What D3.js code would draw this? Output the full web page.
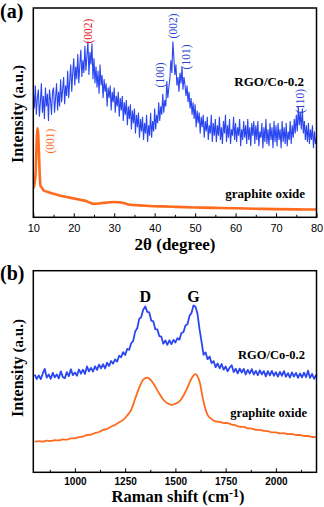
<!DOCTYPE html>
<html>
<head>
<meta charset="utf-8">
<script src="https://cdn.jsdelivr.net/npm/d3@7"></script>
<style>
  body { margin: 0; background: #fff; }
  svg { display: block; }
</style>
</head>
<body>
<div id="chart"></div>
<script>
// XRD (panel a): RGO/Co-0.2 sampled every 0.25 degree from 10 to 80
const xrdAngles = d3.range(10, 80.1, 0.25);
const xrdRgo = [
  60, 52, 63, 49, 57, 61, 48, 55, 64, 50, 58, 47, 62, 53, 59, 46, 61, 56, 49, 60,
  62, 50, 57, 64, 51, 60, 53, 66, 55, 61, 67, 54, 63, 58, 70, 57, 65, 73, 60, 69,
  76, 63, 72, 66, 78, 64, 73, 80, 67, 75, 69, 82, 70, 77, 84, 68, 79, 73, 83, 66,
  76, 64, 72, 62, 70, 59, 73, 63, 68, 57, 66, 60, 64, 53, 62, 57, 63, 51, 60, 55,
  62, 50, 58, 53, 60, 48, 57, 51, 58, 46, 55, 49, 56, 44, 53, 47, 54, 42, 51, 45,
  52, 40, 49, 43, 50, 38, 47, 41, 48, 37, 45, 40, 49, 36, 44, 39, 50, 38, 46, 41,
  52, 42, 49, 45, 55, 46, 53, 49, 59, 50, 56, 53, 65, 57, 62, 66, 75, 69, 84, 76,
  68, 73, 63, 67, 60, 69, 64, 72, 61, 67, 63, 58, 63, 55, 60, 52, 57, 49, 55, 47,
  54, 43, 51, 45, 50, 40, 48, 43, 49, 38, 46, 41, 48, 37, 44, 40, 49, 36, 45, 39,
  47, 36, 44, 39, 48, 37, 43, 35, 46, 40, 49, 36, 44, 38, 47, 35, 42, 39, 48, 37,
  45, 36, 43, 39, 47, 34, 42, 37, 46, 38, 44, 35, 47, 37, 43, 34, 45, 39, 46, 35,
  44, 37, 46, 34, 41, 38, 45, 33, 43, 36, 47, 35, 42, 34, 45, 37, 43, 33, 46, 36,
  44, 34, 45, 37, 42, 33, 46, 36, 43, 35, 45, 34, 41, 37, 46, 35, 44, 38, 47, 40,
  49, 41, 53, 44, 50, 42, 52, 40, 46, 37, 44, 36, 45, 35, 42, 37, 44, 33, 41, 35,
  38
];
// XRD graphite oxide
const goAngles = [10, 10.3, 10.6, 10.8, 11.0, 11.2, 11.4, 11.6, 11.8, 12.1, 12.5, 13, 14, 15, 16, 17, 18, 19, 20,
  21, 22, 23, 24, 25, 26, 27, 28, 29, 30, 31, 32, 33, 34, 35, 36, 38, 40, 42, 45, 50, 55, 60, 65, 70, 75, 80];
const goXrd = [13.9, 16, 22, 34, 42.6, 40, 31, 20, 15, 14.2, 13, 12.5, 11.8, 11.2, 10.7, 10.2, 9.8, 9.4, 9.0,
  8.6, 8.2, 7.8, 7.0, 6.5, 6.6, 6.8, 7.0, 7.2, 7.3, 7.2, 7.0, 6.4, 6.0, 5.8, 5.7, 5.5, 5.3, 5.2, 5.0, 4.7, 4.5, 4.3, 4.1, 3.9, 3.8, 3.7];

const xrdMajor = [10, 20, 30, 40, 50, 60, 70, 80];
const xrdMinor = [15, 25, 35, 45, 55, 65, 75];

// Raman (panel b)
const ramanShiftRgo = d3.range(800, 2201, 10);
const ramanRgo = [
  48.5, 46.3, 48.1, 46.2, 48.9, 51.3, 47.0, 48.5, 46.4, 49.3,
  47.1, 48.5, 46.6, 50.1, 47.2, 46.7, 49.7, 47.7, 51.1, 48.2,
  49.5, 47.9, 51.0, 48.9, 50.9, 48.8, 52.5, 50.1, 51.8, 50.0,
  52.6, 50.8, 53.4, 51.6, 53.6, 51.5, 54.4, 52.7, 55.2, 53.9,
  56.0, 54.9, 57.8, 57.1, 59.6, 58.2, 61.2, 60.8, 64.0, 65.2,
  69.9, 71.4, 76.1, 77.0, 80.7, 82.3, 79.6, 79.3, 75.2, 74.9,
  71.0, 70.9, 67.6, 67.3, 63.8, 65.4, 63.2, 65.5, 63.6, 65.7,
  64.4, 66.5, 65.8, 69.1, 69.5, 72.8, 73.4, 77.6, 79.0, 82.8,
  82.1, 78.6, 71.0, 64.8, 58.3, 59.5, 56.1, 57.4, 54.2, 55.2,
  52.1, 54.0, 51.6, 53.7, 50.9, 52.5, 50.1, 51.9, 53.1, 49.7,
  51.4, 49.1, 51.4, 49.5, 51.3, 48.6, 50.8, 49.0, 51.2, 48.5,
  50.3, 48.2, 50.6, 48.6, 50.2, 47.6, 50.2, 48.1, 50.3, 47.9,
  49.7, 47.5, 49.8, 47.9, 50.2, 47.4, 49.2, 47.0, 49.6, 47.5,
  49.3, 46.9, 49.0, 47.1, 49.4, 47.2, 50.4, 46.8, 48.8, 46.4,
  48.3
];
const ramanShiftGo = d3.range(800, 2201, 20);
const ramanGo = [
  15.2, 15.5, 15.2, 15.7, 15.5, 15.9, 15.8, 16.3, 16.2, 16.8,
  16.9, 17.5, 17.7, 18.5, 18.7, 19.5, 20.0, 21.0, 21.5, 22.7,
  23.5, 24.8, 26.0, 28.2, 31.0, 36.5, 42.0, 46.0, 47.0, 45.5,
  42.5, 39.0, 36.0, 34.3, 33.4, 34.0, 35.2, 38.0, 42.0, 46.5,
  48.7, 45.0, 35.0, 28.5, 26.4, 25.2, 25.0, 24.5, 24.4, 23.7,
  23.3, 22.6, 22.5, 21.8, 21.7, 21.1, 21.0, 20.5, 20.4, 19.8,
  19.8, 19.3, 19.4, 18.9, 19.0, 18.5, 18.5, 18.0, 18.0, 17.5,
  17.4
];
const ramanMajor = [1000, 1250, 1500, 1750, 2000];
const ramanMinor = [875, 1125, 1375, 1625, 1875, 2125];

const blue = "#2a46f0";
const orange = "#ff6a1c";
const serif = "'Liberation Serif', 'Times New Roman', serif";
const sans = "'Liberation Sans', Arial, sans-serif";

const svg = d3.select("#chart").append("svg")
  .attr("width", 324)
  .attr("height", 507);

svg.append("rect").attr("width", 324).attr("height", 507).attr("fill", "#fff");

const left = 33.3, right = 316.5;

// ---------- panel (a) ----------
const xA = d3.scaleLinear().domain([10, 80]).range([left, right]);
const yA = d3.scaleLinear().domain([0, 100]).range([217.3, 8]);

svg.append("clipPath").attr("id", "clipA")
  .append("rect").attr("x", left).attr("y", 8).attr("width", right - left).attr("height", 209.3);

const gA = svg.append("g").attr("clip-path", "url(#clipA)");

gA.append("path")
  .datum(xrdAngles.map((a, i) => [a, xrdRgo[i]]))
  .attr("fill", "none")
  .attr("stroke", blue)
  .attr("stroke-width", 1.1)
  .attr("d", d3.line().x(d => xA(d[0])).y(d => yA(d[1])));

gA.append("path")
  .datum(goAngles.map((a, i) => [a, goXrd[i]]))
  .attr("fill", "none")
  .attr("stroke", orange)
  .attr("stroke-width", 2.6)
  .attr("stroke-linejoin", "round")
  .attr("d", d3.line().x(d => xA(d[0])).y(d => yA(d[1])).curve(d3.curveMonotoneX));

// ticks pointing inward
const axA = svg.append("g").attr("transform", "translate(0,217.3)")
  .call(d3.axisBottom(xA).tickValues(xrdMajor).tickSizeInner(-4).tickSizeOuter(0).tickPadding(7));
axA.selectAll("text").style("font-family", sans).style("font-size", "11px").attr("fill", "#000");
svg.append("g").attr("transform", "translate(0,217.3)")
  .call(d3.axisBottom(xA).tickValues(xrdMinor).tickSizeInner(-2.5).tickSizeOuter(0).tickFormat(""));
svg.selectAll(".domain").remove();

svg.append("rect")
  .attr("x", left).attr("y", 8).attr("width", right - left).attr("height", 209.3)
  .attr("fill", "none").attr("stroke", "#000").attr("stroke-width", 1.5);

// peak labels
const peaksA = [
  { t: "(002)", x: 23.5, y: 89, c: "#e8141c" },
  { t: "(100)", x: 41.3, y: 68, c: "#2b3fd0" },
  { t: "(002)", x: 44.5, y: 91.4, c: "#2b3fd0" },
  { t: "(101)", x: 47.8, y: 76.6, c: "#2b3fd0" },
  { t: "(110)", x: 76, y: 55.5, c: "#2b3fd0" },
  { t: "(001)", x: 14.1, y: 36.4, c: orange }
];
svg.selectAll(".peakA").data(peaksA).join("text")
  .attr("transform", d => `translate(${xA(d.x)},${yA(d.y)}) rotate(-90)`)
  .attr("text-anchor", "middle")
  .attr("dominant-baseline", "central")
  .style("font-family", serif)
  .style("font-size", "11.5px")
  .attr("fill", d => d.c)
  .text(d => d.t);

svg.append("text").attr("x", 304).attr("y", 86).attr("text-anchor", "end")
  .style("font-family", serif).style("font-size", "13px").style("font-weight", "bold")
  .text("RGO/Co-0.2");
svg.append("text").attr("x", 305).attr("y", 197.5).attr("text-anchor", "end")
  .style("font-family", serif).style("font-size", "13px").style("font-weight", "bold")
  .text("graphite oxide");

svg.append("text").attr("x", 175).attr("y", 250).attr("text-anchor", "middle")
  .style("font-family", serif).style("font-size", "17px").style("font-weight", "bold")
  .text("2θ (degree)");

svg.append("text").attr("x", 0).attr("y", 18)
  .style("font-family", serif).style("font-size", "20px").style("font-weight", "bold")
  .text("(a)");

function yTitle(cy) {
  const t = svg.append("text")
    .attr("transform", `translate(23,${cy}) rotate(-90)`)
    .attr("text-anchor", "middle")
    .style("font-family", serif).style("font-weight", "bold");
  t.append("tspan").style("font-size", "16px").text("Intensity ");
  t.append("tspan").style("font-size", "15px").text("(a.u.)");
}
yTitle(114);

// ---------- panel (b) ----------
const xB = d3.scaleLinear().domain([793, 2202]).range([left, right]);
const yB = d3.scaleLinear().domain([0, 100]).range([472.3, 270.7]);

svg.append("clipPath").attr("id", "clipB")
  .append("rect").attr("x", left).attr("y", 270.7).attr("width", right - left).attr("height", 201.6);

const gB = svg.append("g").attr("clip-path", "url(#clipB)");

gB.append("path")
  .datum(ramanShiftRgo.map((s, i) => [s, ramanRgo[i]]))
  .attr("fill", "none")
  .attr("stroke", blue)
  .attr("stroke-width", 1.8)
  .attr("stroke-linejoin", "round")
  .attr("d", d3.line().x(d => xB(d[0])).y(d => yB(d[1])));

gB.append("path")
  .datum(ramanShiftGo.map((s, i) => [s, ramanGo[i]]))
  .attr("fill", "none")
  .attr("stroke", orange)
  .attr("stroke-width", 1.8)
  .attr("stroke-linejoin", "round")
  .attr("d", d3.line().x(d => xB(d[0])).y(d => yB(d[1])).curve(d3.curveMonotoneX));

const axB = svg.append("g").attr("transform", "translate(0,472.3)")
  .call(d3.axisBottom(xB).tickValues(ramanMajor).tickFormat(d3.format("d"))
    .tickSizeInner(-4).tickSizeOuter(0).tickPadding(6));
axB.selectAll("text").style("font-family", sans).style("font-size", "10px").style("font-weight", "bold").attr("fill", "#000");
svg.append("g").attr("transform", "translate(0,472.3)")
  .call(d3.axisBottom(xB).tickValues(ramanMinor).tickSizeInner(-2.5).tickSizeOuter(0).tickFormat(""));
svg.selectAll(".domain").remove();

svg.append("rect")
  .attr("x", left).attr("y", 270.7).attr("width", right - left).attr("height", 201.6)
  .attr("fill", "none").attr("stroke", "#000").attr("stroke-width", 1.5);

svg.append("text").attr("x", xB(1350)).attr("y", 302).attr("text-anchor", "middle")
  .style("font-family", serif).style("font-size", "16px").style("font-weight", "bold").text("D");
svg.append("text").attr("x", xB(1590)).attr("y", 302).attr("text-anchor", "middle")
  .style("font-family", serif).style("font-size", "16px").style("font-weight", "bold").text("G");

svg.append("text").attr("x", 305).attr("y", 359).attr("text-anchor", "end")
  .style("font-family", serif).style("font-size", "12.5px").style("font-weight", "bold")
  .text("RGO/Co-0.2");
svg.append("text").attr("x", 307).attr("y", 416.5).attr("text-anchor", "end")
  .style("font-family", serif).style("font-size", "12.5px").style("font-weight", "bold")
  .text("graphite oxide");

const rt = svg.append("text").attr("x", 178).attr("y", 502).attr("text-anchor", "middle")
  .style("font-family", serif).style("font-size", "16.5px").style("font-weight", "bold");
rt.append("tspan").text("Raman shift (cm");
rt.append("tspan").attr("dy", -5).style("font-size", "12px").text("-1");
rt.append("tspan").attr("dy", 5).text(")");

svg.append("text").attr("x", 0).attr("y", 280)
  .style("font-family", serif).style("font-size", "20px").style("font-weight", "bold")
  .text("(b)");

yTitle(368);
</script>
</body>
</html>
